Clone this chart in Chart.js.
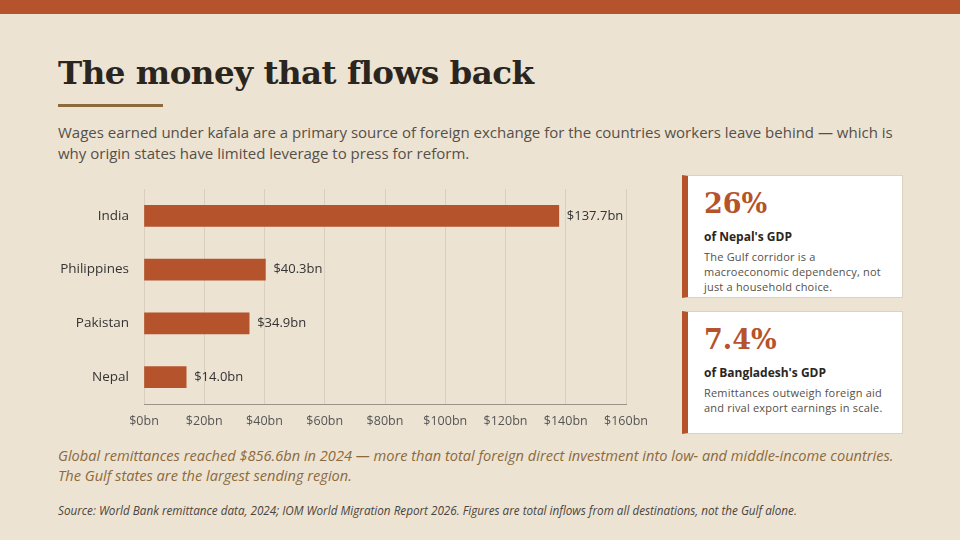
<!DOCTYPE html>
<html lang="en">
<head>
    <meta charset="UTF-8">
    <title>The money that flows back</title>
    <script src="https://cdn.jsdelivr.net/npm/chart.js"></script>
    <style>
        body { margin: 0; background: #ede3d3; }
        .slide { position: relative; width: 960px; height: 540px; overflow: hidden; background: #ede3d3; font-family: "Open Sans", sans-serif; }
        .topbar { position: absolute; left: 0; top: 0; width: 960px; height: 14px; background: #b5532d; }
        h1 { position: absolute; left: 58px; top: 53px; margin: 0; font-family: "DejaVu Serif", serif; font-weight: bold; font-size: 32.5px; color: #2b2520; letter-spacing: -0.5px; }
        .rule { position: absolute; left: 58px; top: 104px; width: 105px; height: 3px; background: #8c6a3c; }
        .sub { position: absolute; left: 58px; top: 122px; width: 850px; margin: 0; font-size: 15px; line-height: 21px; color: #555048; }
        #chartWrap { position: absolute; left: 50px; top: 167px; width: 610px; height: 271px; }
        .card { position: absolute; left: 682px; width: 214px; height: 121px; background: #fff; border: 1px solid #dcd2c3; border-left: 6px solid #b5532d; }
        .card .big { position: absolute; left: 16px; top: 12px; font-family: "DejaVu Serif", serif; font-weight: bold; font-size: 27px; color: #b5532d; }
        .card .lab { position: absolute; left: 16px; top: 52px; font-size: 12px; font-weight: bold; color: #2b2520; }
        .card .desc { position: absolute; left: 16px; top: 73px; width: 182px; font-size: 11px; line-height: 15px; letter-spacing: 0.2px; color: #555048; }
        .note { position: absolute; left: 58px; top: 445px; width: 850px; margin: 0; font-style: italic; font-size: 14.6px; line-height: 20px; color: #8c6a3c; }
        .src { position: absolute; left: 58px; top: 502px; margin: 0; font-style: italic; font-size: 11.7px; color: #4a4540; }
    </style>
</head>
<body>
<div class="slide">
    <div class="topbar"></div>
    <h1>The money that flows back</h1>
    <div class="rule"></div>
    <p class="sub">Wages earned under kafala are a primary source of foreign exchange for the countries workers leave behind — which is why origin states have limited leverage to press for reform.</p>

    <div id="chartWrap"><canvas id="barChart"></canvas></div>

    <div class="card" style="top:175px;">
        <div class="big">26%</div>
        <div class="lab">of Nepal's GDP</div>
        <div class="desc">The Gulf corridor is a macroeconomic dependency, not just a household choice.</div>
    </div>
    <div class="card" style="top:311px;">
        <div class="big">7.4%</div>
        <div class="lab">of Bangladesh's GDP</div>
        <div class="desc">Remittances outweigh foreign aid and rival export earnings in scale.</div>
    </div>

    <p class="note">Global remittances reached $856.6bn in 2024 — more than total foreign direct investment into low- and middle-income countries. The Gulf states are the largest sending region.</p>
    <p class="src">Source: World Bank remittance data, 2024; IOM World Migration Report 2026. Figures are total inflows from all destinations, not the Gulf alone.</p>
</div>

<script>
    // data
    const countries = ['India', 'Philippines', 'Pakistan', 'Nepal'];
    const remittances = [137.7, 40.3, 34.9, 14.0];
    const axisMax = 160;
    const axisStep = 20;

    const fmt = v => '$' + v + 'bn';

    // value labels at the end of each bar
    const barLabels = {
        id: 'barLabels',
        afterDatasetsDraw(chart) {
            const ctx = chart.ctx;
            const meta = chart.getDatasetMeta(0);
            ctx.save();
            ctx.font = '13px "Open Sans", sans-serif';
            ctx.fillStyle = '#333';
            ctx.textBaseline = 'middle';
            meta.data.forEach((bar, i) => {
                ctx.fillText('$' + remittances[i].toFixed(1) + 'bn', bar.x + 8, bar.y);
            });
            ctx.restore();
        }
    };

    const barCtx = document.getElementById('barChart').getContext('2d');
    const barChart = new Chart(barCtx, {
        type: 'bar',
        data: {
            labels: countries,
            datasets: [{
                data: remittances,
                backgroundColor: '#b5532d',
                barThickness: 21
            }]
        },
        options: {
            indexAxis: 'y',
            responsive: true,
            maintainAspectRatio: false,
            animation: false,
            layout: { padding: { top: 22, right: 34, left: 0, bottom: 0 } },
            plugins: { legend: { display: false }, tooltip: { enabled: false } },
            scales: {
                x: {
                    min: 0,
                    max: axisMax,
                    ticks: { stepSize: axisStep, callback: v => fmt(v), color: '#555', font: { size: 12.5, family: '"Open Sans", sans-serif' }, padding: 10 },
                    grid: { color: '#d9cfbf', drawTicks: false },
                    border: { color: '#9a938a', width: 1 },
                    afterFit: s => { s.height = 34; }
                },
                y: {
                    ticks: { color: '#333', font: { size: 13.5, family: '"Open Sans", sans-serif' }, padding: 7 },
                    grid: { display: false },
                    border: { display: false },
                    afterFit: s => { s.width = 94; }
                }
            }
        },
        plugins: [barLabels]
    });
</script>
</body>
</html>
